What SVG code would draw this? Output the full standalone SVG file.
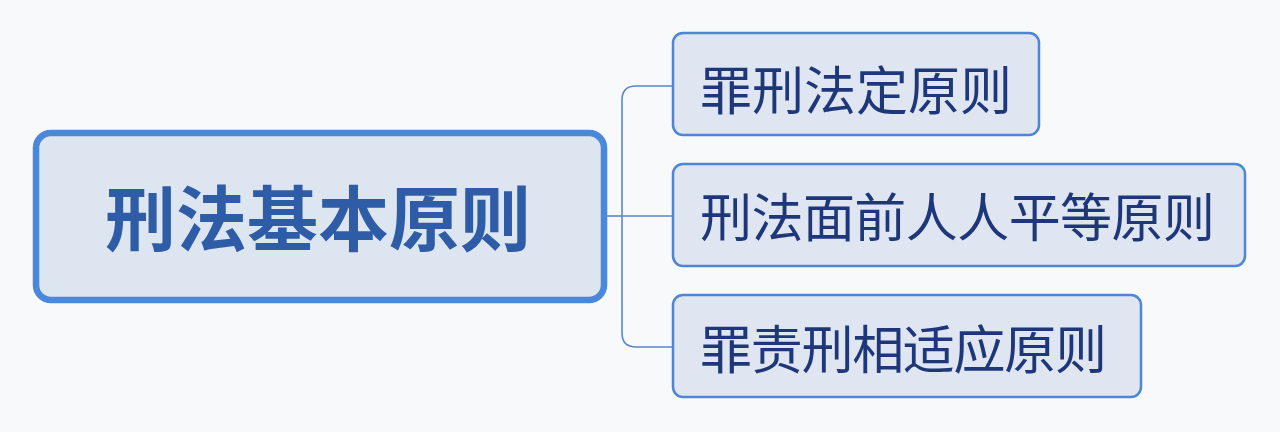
<svg xmlns="http://www.w3.org/2000/svg" width="1280" height="432" viewBox="0 0 1280 432">
  <style>
    .bg { fill: #f8f9fb; }
    .main { fill: #dde5f0; stroke: #4a88dc; stroke-width: 6.5; }
    .child { fill: #dfe6f1; stroke: #4d86d4; stroke-width: 2.5; }
    .conn { fill: none; stroke: #5a87c6; stroke-width: 1.6; }
    .t-main { font-family: "Noto Sans CJK SC", "Noto Sans", sans-serif; font-weight: 700; font-size: 71px; fill: #2f5ca6; }
    .t-child { font-family: "Noto Sans CJK SC", "Noto Sans", sans-serif; font-weight: 400; font-size: 52px; fill: #1e377a; }
  </style>
  <rect class="bg" x="0" y="0" width="1280" height="432"/>
  <g id="connectors">
    <path class="conn" d="M607,216 H622"/>
    <path class="conn" d="M672,86 H636 Q622,86 622,100 V333 Q622,347 636,347 H672"/>
    <path class="conn" d="M622,216 H672"/>
  </g>
  <g id="node-root">
    <rect class="main" x="36" y="133" width="568" height="167" rx="15"/>
    <text class="t-main" x="318" y="245" text-anchor="middle">刑法基本原则</text>
  </g>
  <g id="node-1">
    <rect class="child" x="673" y="33" width="366" height="102" rx="10"/>
    <text class="t-child" x="700" y="110">罪刑法定原则</text>
  </g>
  <g id="node-2">
    <rect class="child" x="673" y="164" width="572" height="102" rx="10"/>
    <text class="t-child" x="700" y="237" textLength="515" lengthAdjust="spacing">刑法面前人人平等原则</text>
  </g>
  <g id="node-3">
    <rect class="child" x="673" y="295" width="468" height="102" rx="10"/>
    <text class="t-child" x="700" y="369" textLength="407" lengthAdjust="spacing">罪责刑相适应原则</text>
  </g>
</svg>
